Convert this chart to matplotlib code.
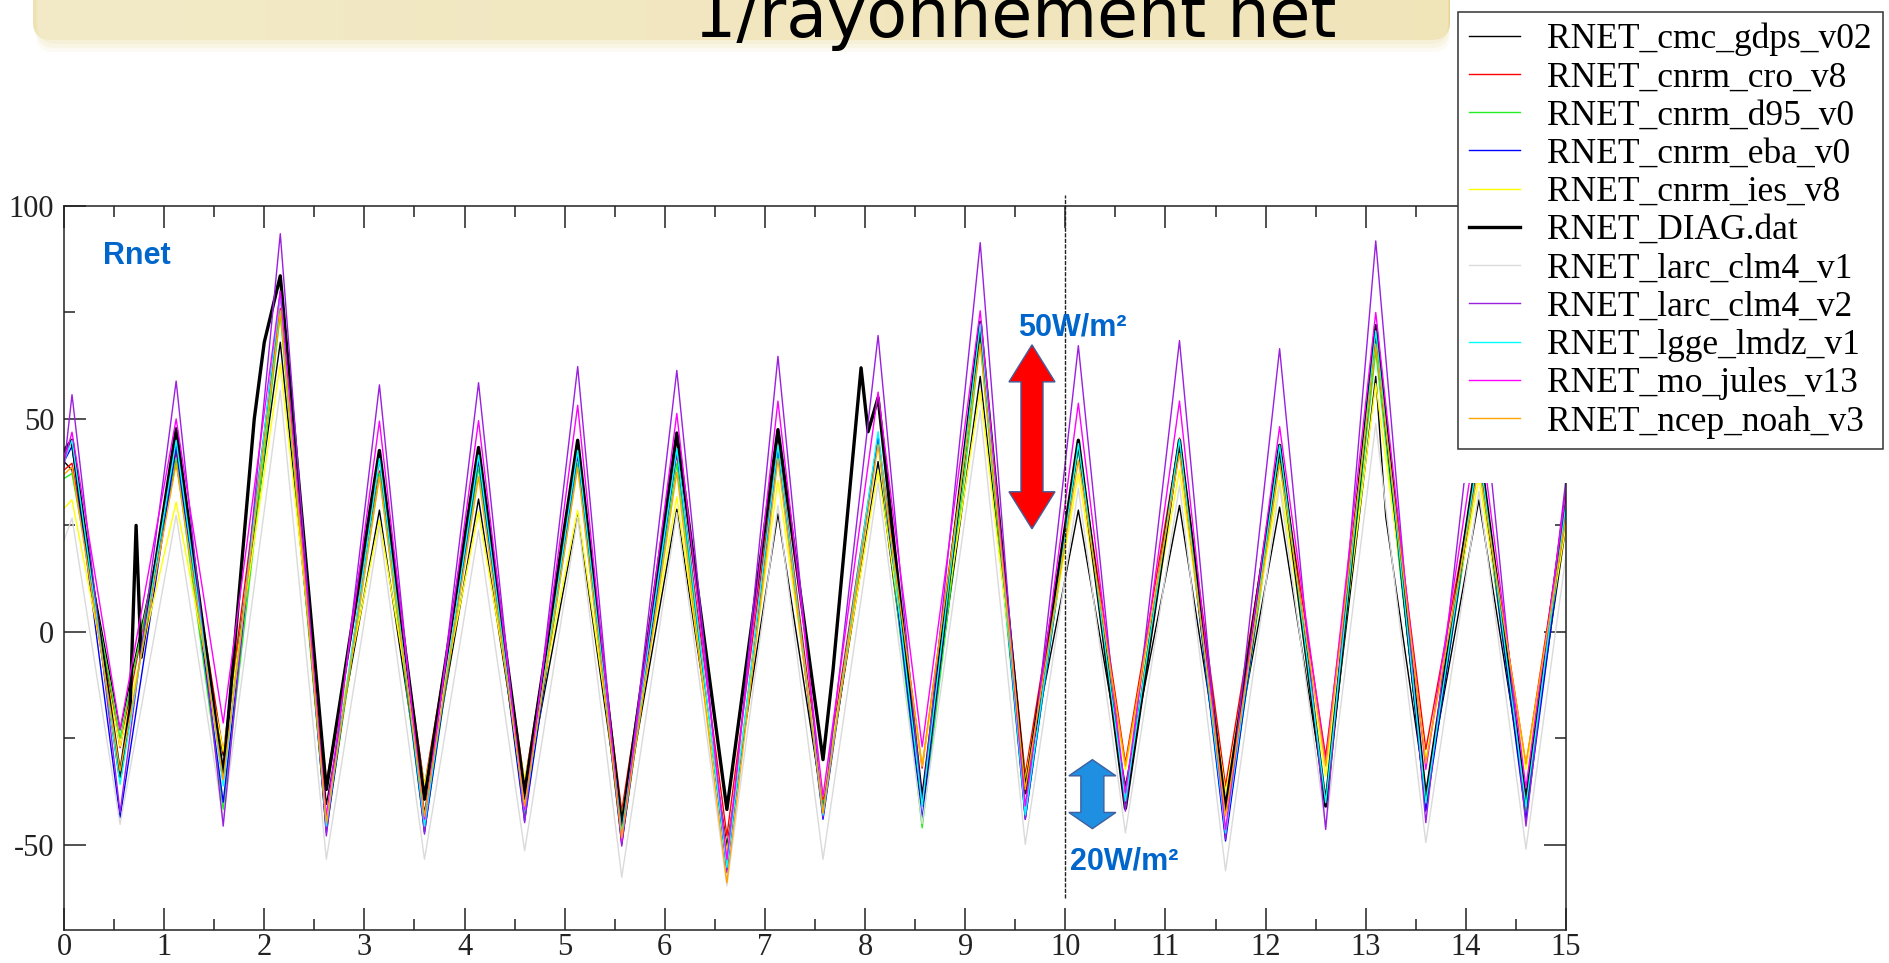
import numpy as np
import matplotlib
matplotlib.use('Agg')
import matplotlib.pyplot as plt
import matplotlib.patches as patches
from matplotlib.colors import LinearSegmentedColormap

plt.rcParams['axes.unicode_minus'] = False

# times (days) of daily maxima / minima
peak_x = [0.08, 1.12, 2.16, 3.15, 4.14, 5.13, 6.12, 7.13, 8.13, 9.15, 10.13, 11.14, 12.14, 13.1, 14.13]
trough_x = [0.56, 1.59, 2.62, 3.6, 4.6, 5.57, 6.62, 7.58, 8.57, 9.6, 10.6, 11.6, 12.6, 13.6, 14.6]

names = ['RNET_cmc_gdps_v02', 'RNET_cnrm_cro_v8', 'RNET_cnrm_d95_v0', 'RNET_cnrm_eba_v0',
         'RNET_cnrm_ies_v8', 'RNET_DIAG.dat', 'RNET_larc_clm4_v1', 'RNET_larc_clm4_v2',
         'RNET_lgge_lmdz_v1', 'RNET_mo_jules_v13', 'RNET_ncep_noah_v3']

# value at day 0, daily peaks, daily troughs, value at day 15
cmc_start, cmc_end = 40, 25
cmc_peaks = [38, 40, 68, 28.6, 31.2, 27.8, 28.8, 27.8, 40, 60, 28.6, 29.7, 29.3, 60, 31]
cmc_troughs = [-23, -29, -40.5, -42.5, -39.3, -45.6, -50.3, -41.3, -39.3, -36.2, -36.2, -40.9, -39.7, -38.5, -39.3]
cmc_extra = [(13.2, 27)]

cro_start, cro_end = 38, 30
cro_peaks = [39.6, 42.2, 76, 37.8, 39.5, 41.5, 41.8, 43.8, 46, 69, 44, 45.5, 42.6, 67.6, 41]
cro_troughs = [-27.2, -28.4, -35.4, -36.2, -35.4, -42.1, -47.9, -39.3, -32, -33.5, -30.8, -36.2, -29.2, -27.6, -31.5]

d95_start, d95_end = 36, 28
d95_peaks = [37.2, 40.7, 74.6, 37.2, 38.7, 39.6, 39.6, 41.5, 45, 68, 43, 43.5, 40.3, 66, 40]
d95_troughs = [-25, -41.7, -46.5, -46.8, -43.3, -49.5, -55, -42, -46, -43.7, -40.9, -48, -40.9, -40.5, -42.1]

eba_start, eba_end = 40, 28
eba_peaks = [43.6, 43.6, 80, 41, 40.7, 42, 42.6, 43, 46, 72, 44, 44.5, 43, 70.3, 42]
eba_troughs = [-43.6, -40, -47.1, -47.1, -44.4, -49.9, -55.7, -44, -44, -44, -41.8, -49.1, -40.5, -42.1, -44]

ies_start, ies_end = 29, 25
ies_peaks = [31, 30.5, 63, 26.2, 28.2, 28.6, 31.7, 35.6, 38, 56.7, 37.2, 37.9, 35.6, 58.3, 36]
ies_troughs = [-26.9, -28, -35.4, -36, -34.7, -43.2, -51.8, -38.6, -31.5, -34.7, -32.3, -37.8, -33.9, -30, -32.3]

diag_start, diag_end = 42.6, 32
diag_peaks = [45, 47.7, 83.6, 42.6, 43.3, 45, 46.7, 47.5, 55, 72.7, 45, 45, 43.8, 71.9, 44]
diag_troughs = [-33.9, -33.9, -37, -39.3, -37.8, -45.6, -41.7, -30, -40.1, -37.8, -41.4, -41.7, -40.9, -39.3, -40.1]
diag_extra = [(0.66, -18), (0.72, 25), (0.77, -6), (1.9, 50), (2.0, 68), (7.68, -9), (7.96, 62), (8.03, 47)]

v1_start, v1_end = 21.5, 18
v1_peaks = [26.7, 27.4, 56.7, 24.7, 23.9, 27, 28, 29.7, 35, 52, 33.7, 34.4, 34.4, 48.9, 33]
v1_troughs = [-45.2, -44, -53.4, -53.4, -51.4, -57.6, -59.6, -53.4, -45, -49.9, -47.2, -56.1, -46, -49.5, -51]

v2_start, v2_end = 38.6, 36
v2_peaks = [55.7, 58.9, 93.5, 58, 58.5, 62.3, 61.4, 64.7, 69.6, 91.4, 67.2, 68.4, 66.5, 91.8, 66]
v2_troughs = [-42.4, -45.6, -47.9, -47.5, -44.8, -50.3, -56.5, -43.5, -40.9, -44, -42.1, -48.7, -46.4, -44.8, -45.6]

lmdz_start, lmdz_end = 40, 30
lmdz_peaks = [45, 45, 79.4, 40.7, 41.5, 42.6, 43, 43.8, 47, 72.3, 44.2, 45.2, 43.8, 70.7, 43]
lmdz_troughs = [-35.8, -36.2, -45.6, -45.6, -42, -47.1, -55.3, -43, -40.9, -43, -39.7, -47.2, -40.1, -40.1, -40.9]

jules_start, jules_end = 40, 33
jules_peaks = [46.9, 50, 80, 49.5, 49.6, 53.2, 51.3, 54.2, 56.3, 75.4, 53.7, 54.2, 48.2, 75, 50]
jules_troughs = [-23, -21.4, -43.3, -44, -41.8, -49.2, -53.4, -38.6, -27, -40.9, -37.8, -46.4, -30.8, -32.3, -36.6]

noah_start, noah_end = 37, 27
noah_peaks = [38.7, 39.6, 75.4, 36.4, 36.4, 38.7, 37.5, 40.7, 44, 67.6, 40.3, 41.9, 39.6, 67.6, 39]
noah_troughs = [-32.7, -34.7, -44.8, -43.3, -40.9, -48.4, -58.9, -42.6, -31.5, -37, -31.5, -43.3, -31.5, -30.8, -30.8]

x_ticks = list(range(16))
y_ticks = [-50, 0, 50, 100]


def build(start, peaks, troughs, end, extra=()):
    pts = [(0.0, start), (15.0, end)]
    pts += list(zip(peak_x, peaks)) + list(zip(trough_x, troughs)) + list(extra)
    pts.sort()
    return np.array(pts).T


series = [
    build(cmc_start, cmc_peaks, cmc_troughs, cmc_end, cmc_extra),
    build(cro_start, cro_peaks, cro_troughs, cro_end),
    build(d95_start, d95_peaks, d95_troughs, d95_end),
    build(eba_start, eba_peaks, eba_troughs, eba_end),
    build(ies_start, ies_peaks, ies_troughs, ies_end),
    build(diag_start, diag_peaks, diag_troughs, diag_end, diag_extra),
    build(v1_start, v1_peaks, v1_troughs, v1_end),
    build(v2_start, v2_peaks, v2_troughs, v2_end),
    build(lmdz_start, lmdz_peaks, lmdz_troughs, lmdz_end),
    build(jules_start, jules_peaks, jules_troughs, jules_end),
    build(noah_start, noah_peaks, noah_troughs, noah_end),
]
colors = ['black', '#FF0000', '#22EE22', '#0000FF', '#FFFF00', 'black', '#DADADA',
          '#9B1FE0', '#00FFFF', '#FF00FF', '#FFA500']
widths = [1.0, 1.0, 1.0, 1.0, 1.0, 2.4, 1.0, 1.0, 1.0, 1.0, 1.0]

W, H = 1889, 963
fig = plt.figure(figsize=(W / 100, H / 100), dpi=100)

# title banner
bax = fig.add_axes([0, 1 - 60 / H, 1, 60 / H], zorder=-1)
bax.set_xlim(0, W)
bax.set_ylim(60, 0)
bax.axis('off')
for i, a in enumerate([0.25, 0.35, 0.5]):
    glow = patches.FancyBboxPatch((36 + i, -30), 1414 - 2 * i, 82 - 4 * i,
                                  boxstyle='round,pad=0,rounding_size=18',
                                  fc='#F4EDCF', ec='none', alpha=a)
    bax.add_patch(glow)
band = patches.FancyBboxPatch((33, -30), 1417, 70, boxstyle='round,pad=0,rounding_size=18',
                              fc='none', ec='none')
bax.add_patch(band)
grad = np.linspace(0, 1, 256).reshape(1, -1)
cmap = LinearSegmentedColormap.from_list('banner', ['#EEE2B3', '#E9D38E', '#E6C979'])
im = bax.imshow(grad, extent=[33, 1450, 40, -30], cmap=cmap, aspect='auto')
im.set_clip_path(band)
fig.text(1015 / W, 1 - 37 / H, '1/rayonnement net', fontsize=48, ha='center',
         va='baseline', family='DejaVu Sans', color='black')

ax = fig.add_axes([64 / W, 33 / H, 1502 / W, 724 / H])
lines = []
for (x, y), c, lw, n in zip(series, colors, widths, names):
    ln, = ax.plot(x, y, color=c, lw=lw, label=n)
    lines.append(ln)

ax.set_xlim(0, 15)
ax.set_ylim(-70, 100)
ax.set_xticks(x_ticks)
ax.set_xticks(np.arange(0.5, 15, 1), minor=True)
ax.set_yticks(y_ticks)
ax.set_yticks([-25, 25, 75], minor=True)
ax.tick_params(which='both', direction='in', top=True, right=True, color='#222222', width=1.1,
               labelsize=22, labelcolor='#222222', labelfontfamily='Liberation Serif')
ax.tick_params(which='major', length=16)
ax.tick_params(which='minor', length=8)
ax.tick_params(axis='x', pad=2.5)
ax.tick_params(axis='y', pad=7)
for s in ax.spines.values():
    s.set_linewidth(1.1)
    s.set_color('#222222')

ax.axvline(10, ymin=0.044, ymax=1.015, color='#222222', lw=1.0, ls=(0, (3, 1)), clip_on=False)

blue_txt = '#0066CC'
ax.text(0.39, 86.4, 'Rnet', color=blue_txt, fontsize=22, fontweight='bold',
        family='Liberation Sans', va='baseline')
ax.text(9.53, 69.6, '50W/m²', color=blue_txt, fontsize=22, fontweight='bold',
        family='Liberation Sans', va='baseline', zorder=4)
ax.text(10.05, -55.9, '20W/m²', color=blue_txt, fontsize=22, fontweight='bold',
        family='Liberation Sans', va='baseline', zorder=4)


def double_arrow(xc, ytop, ybot, head_hw, shaft_hw, head_len, fc):
    pts = [(xc, ytop), (xc + head_hw, ytop - head_len), (xc + shaft_hw, ytop - head_len),
           (xc + shaft_hw, ybot + head_len), (xc + head_hw, ybot + head_len), (xc, ybot),
           (xc - head_hw, ybot + head_len), (xc - shaft_hw, ybot + head_len),
           (xc - shaft_hw, ytop - head_len), (xc - head_hw, ytop - head_len)]
    ax.add_patch(patches.Polygon(pts, closed=True, fc=fc, ec='#3F5F9F', lw=1.0, zorder=4))


double_arrow(9.667, 67.4, 24.2, 0.23, 0.11, 8.7, '#FF0000')
double_arrow(10.27, -30, -46.2, 0.235, 0.115, 3.8, '#1E8FE1')

# white area under the legend
cover = patches.Rectangle((1458 / W, 1 - 483 / H), 1 - 1458 / W, 483 / H,
                          transform=fig.transFigure, fc='white', ec='none', zorder=5)
fig.add_artist(cover)

leg = fig.legend(lines, names, loc='upper left', bbox_to_anchor=(1458 / W, 1 - 12 / H),
                 prop={'family': 'Liberation Serif', 'size': 25.5}, frameon=True,
                 fancybox=False, framealpha=1, edgecolor='#333333', borderaxespad=0,
                 handlelength=1.46, handletextpad=0.76, labelspacing=0.147, borderpad=0.3)
leg.get_frame().set_linewidth(1.1)
leg.set_zorder(6)

fig.savefig('out.png', dpi=100)
